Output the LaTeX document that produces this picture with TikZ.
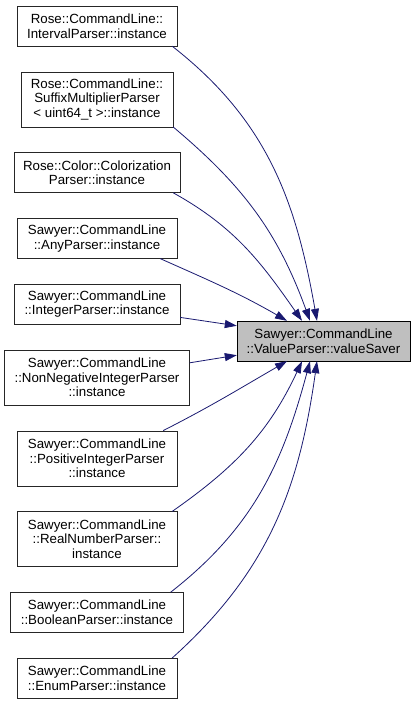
\documentclass[tikz,border=0pt]{standalone}
\usepackage{fontspec}
\setmainfont{Liberation Sans}
\usetikzlibrary{arrows.meta, positioning}
\definecolor{edgeblue}{HTML}{191970}

\begin{document}
\begin{tikzpicture}[
    x=1bp, y=1bp,
    node distance=25.4bp,
    callerbox/.style={rectangle, draw=black!85, fill=white, minimum width=160bp, minimum height=40bp, align=center, inner sep=2bp, font=\fontsize{13.3bp}{14.5bp}\selectfont},
    tallbox/.style={callerbox, minimum height=55bp},
    targetbox/.style={callerbox, fill=black!25, draw=black, minimum width=173bp},
    arr/.style={-{Triangle[length=12bp, width=8bp]}, draw=edgeblue, line width=0.8bp}
]
\useasboundingbox (0,0) rectangle (416,-701);

% callers (left column)
\node[callerbox] (p1) at (97,-26) {Rose::CommandLine::\\IntervalParser::instance};
\node[tallbox, below=of p1, minimum width=152bp] (p2) {Rose::CommandLine::\\SuffixMultiplierParser\\< uint64\_t >::instance};
\node[callerbox, below=of p2, minimum width=166bp] (p3) {Rose::Color::Colorization\\Parser::instance};
\node[callerbox, below=of p3] (p4) {Sawyer::CommandLine\\::AnyParser::instance};
\node[callerbox, below=of p4, minimum width=166bp] (p5) {Sawyer::CommandLine\\::IntegerParser::instance};
\node[tallbox, below=of p5, minimum width=185bp] (p6) {Sawyer::CommandLine\\::NonNegativeIntegerParser\\::instance};
\node[tallbox, below=of p6] (p7) {Sawyer::CommandLine\\::PositiveIntegerParser\\::instance};
\node[tallbox, below=of p7] (p8) {Sawyer::CommandLine\\::RealNumberParser::\\instance};
\node[callerbox, below=of p8, minimum width=173bp] (p9) {Sawyer::CommandLine\\::BooleanParser::instance};
\node[callerbox, below=of p9] (p10) {Sawyer::CommandLine\\::EnumParser::instance};

% the called function
\node[targetbox] (vs) at (323.5,-341) {Sawyer::CommandLine\\::ValueParser::valueSaver};

% calls from above
\draw[arr] ([xshift=-5bp]p1.south east) to[out=-38, in=100] ([xshift=-6.5bp]vs.north);
\draw[arr] (p2.south east) to[out=-40, in=110] ([xshift=-13.5bp]vs.north);
\draw[arr] ([xshift=-7bp]p3.south east) to[out=-29, in=125] ([xshift=-21.5bp]vs.north);
\draw[arr] ([xshift=-17bp]p4.south east) to[out=-24, in=150] ([xshift=-36.5bp]vs.north);
% calls from the side
\draw[arr] ([yshift=7bp]p5.south east) -- ([yshift=-5bp]vs.north west);
\draw[arr] ([yshift=-13bp]p6.north east) -- ([yshift=6bp]vs.south west);
% calls from below
\draw[arr] ([xshift=-14bp]p7.north east) to[out=27, in=-150] ([xshift=-36.5bp]vs.south);
\draw[arr] ([xshift=-5bp]p8.north east) to[out=35, in=-115] ([xshift=-21.5bp]vs.south);
\draw[arr] ([xshift=-13bp]p9.north east) to[out=38, in=-105] ([xshift=-13.5bp]vs.south);
\draw[arr] ([xshift=-5bp]p10.north east) to[out=42, in=-98] ([xshift=-6.5bp]vs.south);

\end{tikzpicture}
\end{document}
